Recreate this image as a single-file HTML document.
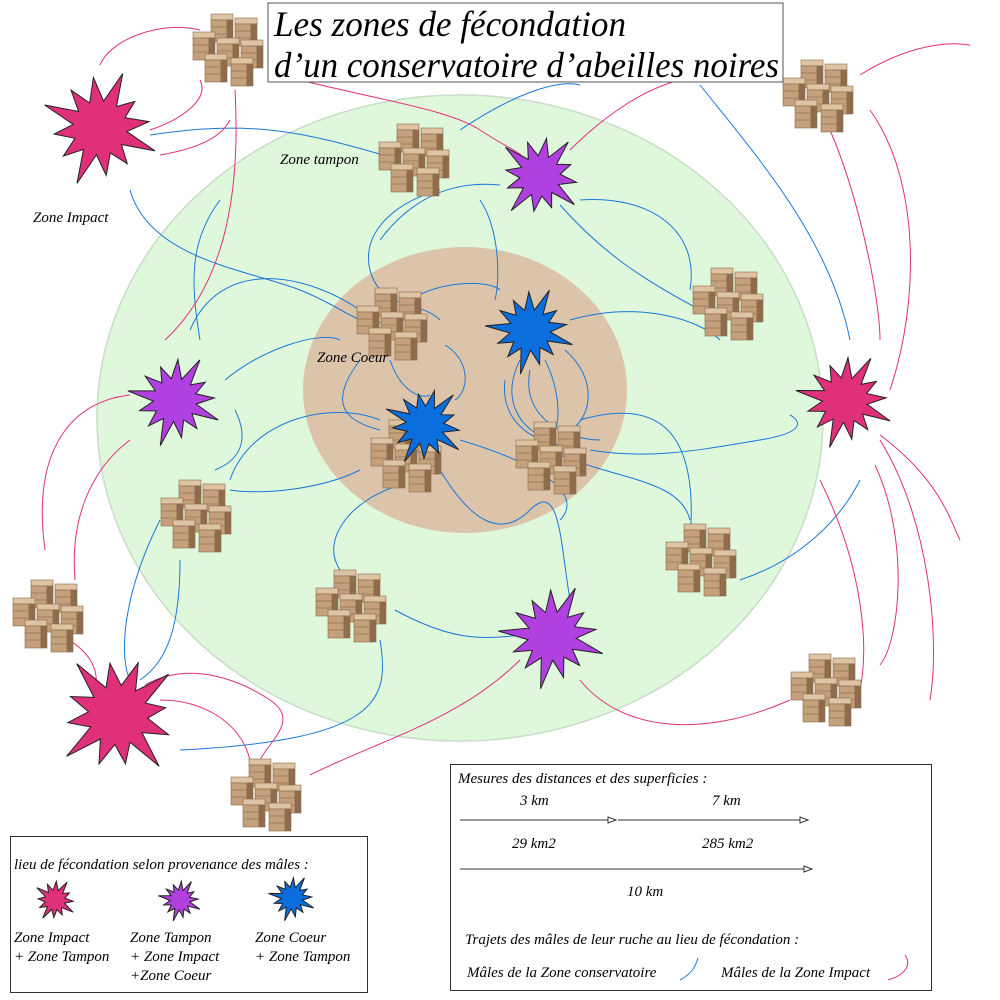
<!DOCTYPE html>
<html><head><meta charset="utf-8"><style>
body{margin:0;background:#fff}
svg{display:block}
text{font-family:"Liberation Serif",serif;font-style:italic}
</style></head><body>
<svg id="s" width="1000" height="1000" viewBox="0 0 1000 1000" xmlns="http://www.w3.org/2000/svg">
<rect width="1000" height="1000" fill="#fff"/>
<ellipse cx="460" cy="418" rx="363" ry="323" fill="#dff8dc" stroke="#c8dcc8" stroke-width="1.5"/>
<ellipse cx="465" cy="390" rx="162" ry="143" fill="#dcc4ab"/>
<g id="curves" fill="none" stroke-width="1">
<g stroke="#1a78d8">
<path d="M150 135 C250 120 300 130 400 160"/>
<path d="M130 190 C150 260 250 270 300 290 S360 330 390 320"/>
<path d="M460 130 C520 90 560 80 580 85"/>
<path d="M700 85 C760 160 830 240 850 340"/>
<path d="M580 200 C650 195 700 230 690 290"/>
<path d="M560 205 C600 250 640 280 720 320"/>
<path d="M440 190 C400 200 360 230 370 270 S420 300 440 320"/>
<path d="M500 185 C450 180 410 200 380 240"/>
<path d="M480 200 C500 230 500 280 495 300"/>
<path d="M410 300 C440 280 490 280 500 290"/>
<path d="M190 330 C220 260 300 270 360 310"/>
<path d="M225 380 C260 350 320 330 340 340"/>
<path d="M570 320 C640 300 700 320 720 340"/>
<path d="M565 350 C600 380 590 420 570 430"/>
<path d="M520 360 C500 400 520 430 550 440"/>
<path d="M545 360 C560 390 560 420 555 430"/>
<path d="M505 380 C500 420 530 440 560 445"/>
<path d="M530 370 C520 420 570 440 600 440"/>
<path d="M590 450 C650 460 700 450 760 440 S790 415 790 415"/>
<path d="M560 455 C620 480 680 480 690 520"/>
<path d="M580 420 C650 400 700 420 690 540"/>
<path d="M390 360 C400 390 420 400 430 395"/>
<path d="M445 345 C470 360 470 390 455 400"/>
<path d="M360 360 C330 400 340 420 380 430"/>
<path d="M380 420 C330 400 250 420 230 480"/>
<path d="M230 490 C260 495 320 490 360 470"/>
<path d="M235 410 C250 440 240 460 215 470"/>
<path d="M400 485 C350 500 320 540 340 570"/>
<path d="M440 470 C470 520 500 540 530 510 S560 540 570 600"/>
<path d="M460 440 C560 470 580 500 560 520"/>
<path d="M395 610 C450 640 480 640 520 635"/>
<path d="M380 640 C390 700 380 740 180 750"/>
<path d="M180 560 C180 620 170 660 140 680"/>
<path d="M160 520 C120 600 120 660 130 680"/>
<path d="M740 580 C800 560 840 520 860 480"/>
<path d="M220 200 C190 240 190 280 200 340"/>
</g>
<g stroke="#e0307a">
<path d="M100 65 C110 40 160 20 200 30"/>
<path d="M150 130 C180 120 210 100 200 80"/>
<path d="M160 155 C190 150 220 140 230 120"/>
<path d="M235 90 C240 180 230 280 165 340"/>
<path d="M300 80 C380 100 450 110 480 130 S520 150 530 165"/>
<path d="M570 150 C600 120 640 90 680 80"/>
<path d="M860 75 C900 50 940 40 970 45"/>
<path d="M870 110 C920 180 920 300 890 390"/>
<path d="M830 130 C860 200 880 300 880 340"/>
<path d="M820 480 C860 560 870 640 860 690"/>
<path d="M875 465 C910 540 900 640 880 665"/>
<path d="M880 440 C930 520 940 640 930 700"/>
<path d="M580 680 C620 730 700 740 790 700"/>
<path d="M520 660 C460 720 380 740 310 775"/>
<path d="M130 395 C80 400 30 440 45 550"/>
<path d="M130 440 C90 470 70 520 75 580"/>
<path d="M60 635 C90 650 100 670 95 690"/>
<path d="M145 685 C190 660 240 680 270 700 S270 740 260 760"/>
<path d="M160 700 C200 700 240 720 250 760"/>
<path d="M880 435 C940 480 950 520 960 540"/>
</g>
</g>
<g id="hives"></g>
<g id="stars"></g>
<rect x="268" y="3" width="515" height="79" fill="#fff" stroke="#555" stroke-width="1"/>
<text x="274" y="36" font-size="36" textLength="352" lengthAdjust="spacingAndGlyphs">Les zones de fécondation</text>
<text x="274" y="77" font-size="36" textLength="505" lengthAdjust="spacingAndGlyphs">d’un conservatoire d’abeilles noires</text>
<text x="280" y="164" font-size="15">Zone tampon</text>
<text x="33" y="222" font-size="15">Zone Impact</text>
<text x="317" y="362" font-size="15">Zone Coeur</text>
<rect x="10.5" y="836.5" width="357" height="156" fill="#fff" stroke="#333"/>
<text x="14" y="869" font-size="15">lieu de fécondation selon provenance des mâles :</text>
<g font-size="15">
<text x="14" y="942">Zone Impact</text><text x="14" y="961">+ Zone Tampon</text>
<text x="130" y="942">Zone Tampon</text><text x="130" y="961">+ Zone Impact</text><text x="130" y="980">+Zone Coeur</text>
<text x="255" y="942">Zone Coeur</text><text x="255" y="961">+ Zone Tampon</text>
</g>
<g id="lstars"></g>
<rect x="450.5" y="764.5" width="481" height="226" fill="#fff" stroke="#333"/>
<g font-size="15">
<text x="458" y="783">Mesures des distances et des superficies :</text>
<text x="520" y="805">3 km</text><text x="712" y="805">7 km</text>
<text x="512" y="848">29 km2</text><text x="702" y="848">285 km2</text>
<text x="627" y="896">10 km</text>
<text x="465" y="944">Trajets des mâles de leur ruche au lieu de fécondation :</text>
<text x="467" y="977">Mâles de la Zone conservatoire</text>
<text x="721" y="977">Mâles de la Zone Impact</text>
</g>
<g stroke="#333" fill="#fff" stroke-width="1">
<line x1="460" y1="820" x2="610" y2="820"/><path d="M608 817 L616 820 L608 823 Z"/>
<line x1="618" y1="820" x2="802" y2="820"/><path d="M800 817 L808 820 L800 823 Z"/>
<line x1="460" y1="869" x2="806" y2="869"/><path d="M804 866 L812 869 L804 872 Z"/>
</g>
<path d="M680 980 C690 975 695 968 698 958" stroke="#1a78d8" fill="none"/>
<path d="M888 980 C905 975 912 965 905 955" stroke="#e0307a" fill="none"/>
</svg>
<script>
var NS="http://www.w3.org/2000/svg";
function star(cx,cy,r,n,col,rot,g){
 var pts=[];for(var i=0;i<2*n;i++){var a=rot+i*Math.PI/n;var rr=(i%2==0)?r*(0.85+0.15*Math.sin(i*7.3)):r*0.45;
 pts.push((cx+rr*Math.cos(a)).toFixed(1)+","+(cy+rr*Math.sin(a)).toFixed(1));}
 var p=document.createElementNS(NS,"polygon");p.setAttribute("points",pts.join(" "));
 p.setAttribute("fill",col);p.setAttribute("stroke","#222");p.setAttribute("stroke-width","1");
 document.getElementById(g||"stars").appendChild(p);}
var P="#e0307a",V="#b040e0",B="#0a6fdc";
star(100,128,60,12,P,-1.7);star(845,400,50,13,P,-1.5);star(118,715,66,12,P,-1.2);
star(175,400,48,13,V,-1.5);star(540,176,45,12,V,-1.4);star(552,636,54,13,V,-1.6);
star(530,330,45,13,B,-1.6);star(425,425,42,13,B,-1.3);
star(55,900,22,12,P,-1.5,"lstars");star(180,900,22,13,V,-1.5,"lstars");star(292,898,24,13,B,-1.5,"lstars");
function box(x,y){
 return '<g transform="translate('+x+','+y+')">'+
 '<rect x="0" y="0" width="22" height="6" fill="#dcc4a4" stroke="#8a6a4a" stroke-width="0.6"/>'+
 '<rect x="0" y="6" width="16" height="22" fill="#c4a07c" stroke="#8a6a4a" stroke-width="0.6"/>'+
 '<rect x="16" y="6" width="6" height="22" fill="#8e6c4c" stroke="#8a6a4a" stroke-width="0.6"/>'+
 '<line x1="0" y1="13" x2="16" y2="13" stroke="#8a6a4a" stroke-width="0.6"/>'+
 '<line x1="0" y1="20" x2="16" y2="20" stroke="#8a6a4a" stroke-width="0.6"/></g>';}
function hive(x,y){
 var off=[[-10,-38],[14,-34],[-28,-20],[-4,-14],[20,-12],[-16,2],[10,6]];
 var s='';off.forEach(function(o){s+=box(x+o[0]-11,y+o[1]);});
 document.getElementById("hives").insertAdjacentHTML("beforeend",s);}
[[232,52],[418,162],[822,98],[732,306],[396,326],[555,460],[410,458],[200,518],[52,618],[355,608],[705,562],[830,692],[270,797]].forEach(function(h){hive(h[0],h[1]);});
</script>
</body></html>
